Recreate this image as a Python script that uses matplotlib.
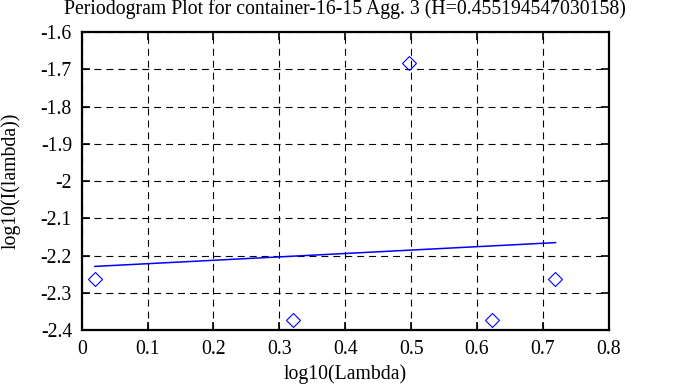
import matplotlib
matplotlib.use("Agg")
import matplotlib.pyplot as plt
import numpy as np

plt.rcParams['font.family'] = ['Liberation Serif', 'DejaVu Serif']
plt.rcParams['lines.scale_dashes'] = False

log_lambda = [0.020, 0.321, 0.497, 0.622, 0.719]
log_I = [-2.264, -2.372, -1.683, -2.372, -2.264]
title = "Periodogram Plot for container-16-15 Agg. 3 (H=0.455194547030158)"
xticks = [0, 0.1, 0.2, 0.3, 0.4, 0.5, 0.6, 0.7, 0.8]
yticks = [-2.4, -2.3, -2.2, -2.1, -2, -1.9, -1.8, -1.7, -1.6]

FS = 14.2
fig = plt.figure(figsize=(6.78, 3.87), dpi=100)
ax = fig.add_axes([0.1205, 0.147, 0.898 - 0.1205, 0.917 - 0.147])

slope, intercept = np.polyfit(log_lambda, log_I, 1)
xs = np.array([log_lambda[0], log_lambda[-1]])
ax.plot(xs, slope * xs + intercept, color='#0000ff', lw=1.1, zorder=3)
ax.plot(log_lambda, log_I, ls='none', marker='D', markersize=7,
        markerfacecolor='none', markeredgecolor='#0000ff', markeredgewidth=0.8, zorder=4)

ax.set_xlim(0, 0.8)
ax.set_ylim(-2.4, -1.6)
ax.set_xticks(xticks)
ax.set_yticks(yticks)
ax.set_xticklabels([f"{t:g}" for t in xticks])
ax.set_yticklabels([f"{t:g}" for t in yticks])
ax.grid(True, color='black', lw=0.8, ls=(0, (5, 3.6)))
ax.tick_params(direction='in', length=6, width=1.2, top=True, right=True, labelsize=FS, pad=7,
               colors='black')
for s in ax.spines.values():
    s.set_linewidth(1.6)
ax.set_title(title, fontsize=FS, y=1.077, va='center', pad=0)
ax.set_xlabel("log10(Lambda)", fontsize=FS, va='center')
ax.xaxis.set_label_coords(0.5, -0.148)
ax.set_ylabel("log10(I(lambda))", fontsize=FS, va='center')
ax.yaxis.set_label_coords(-0.134, 0.5)

fig.savefig("out.png", dpi=100)
